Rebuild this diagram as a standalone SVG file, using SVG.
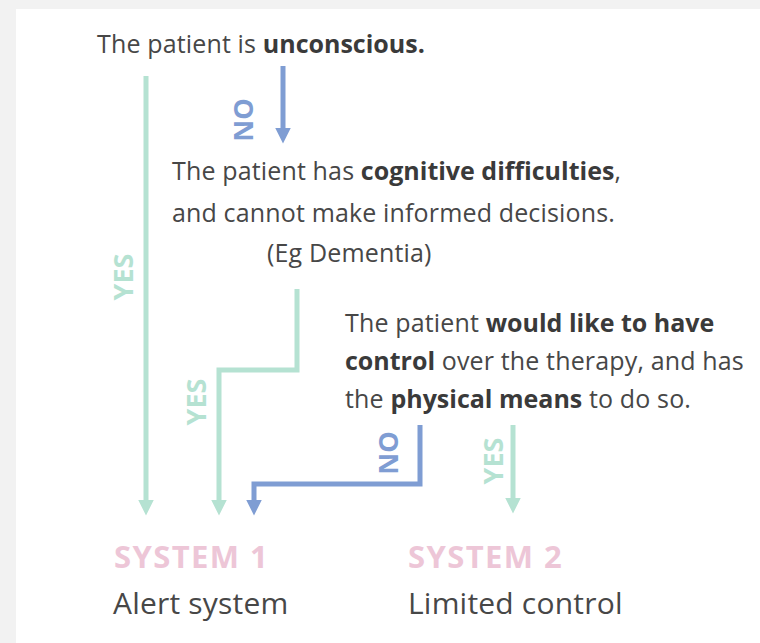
<svg xmlns="http://www.w3.org/2000/svg" width="760" height="643" viewBox="0 0 760 643">
  <style>
    .t { font-family: "Open Sans", "Noto Sans", sans-serif; font-size: 25px; letter-spacing: 0.15px; fill: #474747; }
    .b { font-weight: 700; letter-spacing: 0; fill: #3a3a3a; }
    .sys { font-family: "Open Sans", "Noto Sans", sans-serif; font-size: 31px; font-weight: 700; letter-spacing: 1.4px; fill: #edc6d7; }
    .sub { font-family: "Open Sans", "Noto Sans", sans-serif; font-size: 30px; letter-spacing: 0.2px; fill: #474747; }
    .lbl { font-family: "Open Sans", "Noto Sans", sans-serif; font-size: 27px; font-weight: 700; text-anchor: middle; }
    .g { stroke: #b5e2d2; }
    .bl { stroke: #7f9dd3; }
    .edge { fill: none; stroke-width: 5; stroke-linejoin: miter; }
  </style>
  <defs>
    <marker id="arrowGreen" markerUnits="userSpaceOnUse" viewBox="0 0 16 16" markerWidth="16" markerHeight="16" refX="0.5" refY="8" orient="auto">
      <path d="M0,0 L16,8 L0,16 z" fill="#b5e2d2"/>
    </marker>
    <marker id="arrowBlue" markerUnits="userSpaceOnUse" viewBox="0 0 16 16" markerWidth="16" markerHeight="16" refX="0.5" refY="8" orient="auto">
      <path d="M0,0 L16,8 L0,16 z" fill="#7f9dd3"/>
    </marker>
  </defs>

  <!-- page background -->
  <rect x="0" y="0" width="760" height="643" fill="#f2f2f2"/>
  <rect x="16" y="9" width="744" height="634" fill="#ffffff"/>

  <!-- connectors -->
  <g id="connectors">
    <path class="edge g" d="M146,76 V500" marker-end="url(#arrowGreen)"/>
    <path class="edge bl" d="M283,66 V128" marker-end="url(#arrowBlue)"/>
    <path class="edge g" d="M297,289 V370 H219 V500" marker-end="url(#arrowGreen)"/>
    <path class="edge bl" d="M420,425 V484 H254 V500" marker-end="url(#arrowBlue)"/>
    <path class="edge g" d="M513,425 V498" marker-end="url(#arrowGreen)"/>

    <text class="lbl" fill="#b5e2d2" transform="translate(133,277) rotate(-90)">YES</text>
    <text class="lbl" fill="#7f9dd3" transform="translate(253,120) rotate(-90)">NO</text>
    <text class="lbl" fill="#b5e2d2" transform="translate(206,402) rotate(-90)">YES</text>
    <text class="lbl" fill="#7f9dd3" transform="translate(398,453) rotate(-90)">NO</text>
    <text class="lbl" fill="#b5e2d2" transform="translate(503,461) rotate(-90)">YES</text>
  </g>

  <!-- question 1 -->
  <g id="q-unconscious">
    <text class="t" x="97" y="53">The patient is <tspan class="b">unconscious.</tspan></text>
  </g>

  <!-- question 2 -->
  <g id="q-cognitive">
    <text class="t" x="172" y="180">The patient has <tspan class="b">cognitive difficulties</tspan>,</text>
    <text class="t" x="172" y="222">and cannot make informed decisions.</text>
    <text class="t" x="267" y="262">(Eg Dementia)</text>
  </g>

  <!-- question 3 -->
  <g id="q-control">
    <text class="t" x="345" y="332">The patient <tspan class="b">would like to have</tspan></text>
    <text class="t" x="345" y="370"><tspan class="b">control</tspan> over the therapy, and has</text>
    <text class="t" x="345" y="408">the <tspan class="b">physical means</tspan> to do so.</text>
  </g>

  <!-- outcomes -->
  <g id="system-1">
    <text class="sys" x="114" y="568">SYSTEM 1</text>
    <text class="sub" x="113" y="614">Alert system</text>
  </g>
  <g id="system-2">
    <text class="sys" x="408" y="568">SYSTEM 2</text>
    <text class="sub" x="408" y="614">Limited control</text>
  </g>
</svg>
